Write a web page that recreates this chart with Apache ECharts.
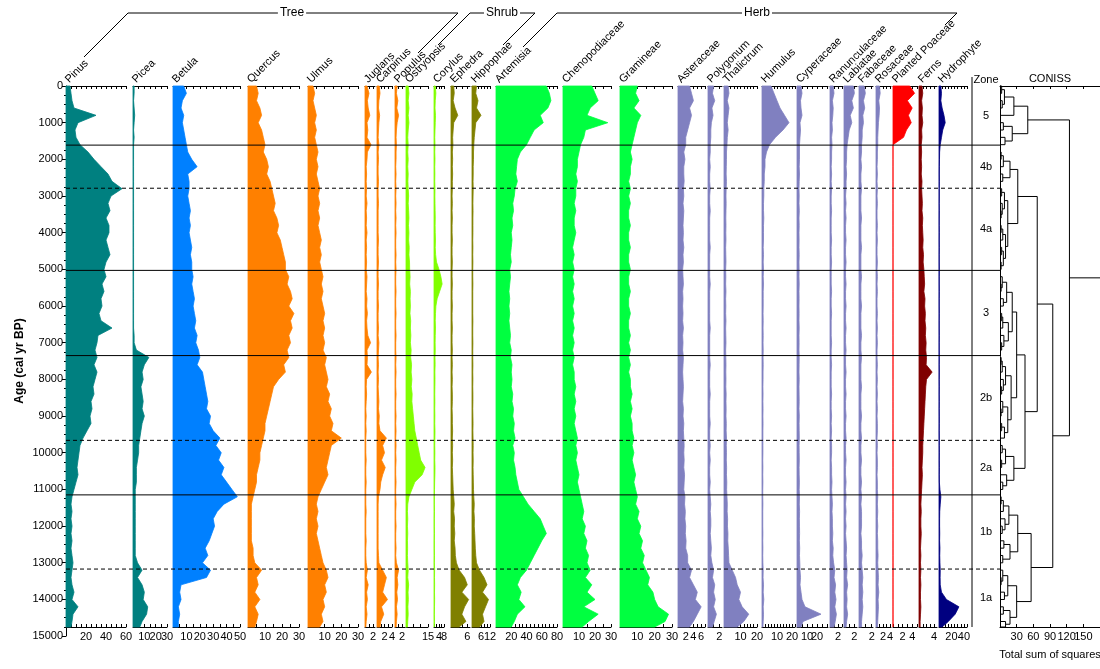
<!DOCTYPE html>
<html>
<head>
<meta charset="utf-8">
<script src="https://cdn.jsdelivr.net/npm/echarts@6/dist/echarts.min.js"></script>
<style>html,body{margin:0;padding:0;background:#fff}#chart{width:1100px;height:669px}</style>
</head>
<body>
<div id="chart"></div>
<script>
// Sample ages (cal yr BP)
const ages = [0,200,400,600,800,1000,1200,1400,1600,1800,2000,2200,2400,2600,2800,3000,3200,3400,3600,3800,
4000,4200,4400,4600,4800,5000,5200,5400,5600,5800,6000,6200,6400,6600,6800,7000,7200,7400,7600,7800,
8000,8200,8400,8600,8800,9000,9200,9400,9600,9800,10000,10200,10400,10600,10800,11000,11200,11400,11600,11800,
12000,12200,12400,12600,12800,13000,13200,13400,13600,13800,14000,14200,14400,14600,14750];

const taxa = ['Pinus','Picea','Betula','Quercus','Ulmus','Juglans','Carpinus','Populus','Ostryopsis','Corylus',
'Ephedra','Hippophae','Artemisia','Chenopodiaceae','Gramineae','Asteraceae','Polygonum','Thalictrum','Humulus',
'Cyperaceae','Ranunculaceae','Labiatae','Fabaceae','Rosaceae','Planted Poaceae','Ferns','Hydrophyte'];

// Percentages per taxon
const pinus = [4,5,6,8,30,12,9,10,14,22, 28,35,42,46,56,45,42,44,40,43, 43,40,42,44,40,38,40,36,38,35,
36,33,35,46,32,31,29,31,28,31, 29,27,28,25,26,24,25,21,17,14, 13,12,11,12,10,8,6,5,6,5,
6,5,6,5,6,7,6,5,6,8, 6,12,7,6,5];
const picea = [1,1,0.5,1,1.5,1,0.5,1,0.5,0.5, 0.5,0.5,0.5,0.5,0.5,0.5,0.5,0.5,0.5,0.5, 0.5,0.5,0.5,0.5,0.5,0.5,0.5,0.5,0.5,0.5,
0.5,0.5,0.5,0.5,1,1,3,14,10,8, 9,7,8,9,8,10,8,7,6,5, 5,4,3,3,3,2,2,2,2,2,
2,2,2,2,2,4,8,4,8,10, 9,13,12,8,6];
const betula = [8,10,7,6,8,7,8,9,10,11, 14,18,11,12,12,11,12,13,12,13, 12,13,14,13,14,14,15,14,15,16,
15,16,17,16,18,17,19,20,18,22, 23,24,25,26,25,28,27,30,35,32, 36,34,38,36,40,44,48,38,33,30,
31,29,27,24,26,22,28,25,6,5, 6,4,5,4,4];
const quercus = [5,6,5,7,8,6,8,9,10,9, 11,12,11,13,14,15,16,15,17,18, 17,19,20,21,22,22,24,23,25,26,
24,27,25,26,24,25,23,24,21,22, 18,15,14,13,12,11,10,10,9,8, 7,7,6,5,5,4,3,2,2,2,
2,2,2,3,3,4,8,5,6,4, 7,4,6,5,4];
const ulmus = [3,4,3,4,5,4,5,4,5,6, 5,6,5,6,7,6,7,6,7,6, 7,8,7,8,7,8,9,8,9,8,
9,10,9,10,9,10,9,11,10,11, 12,11,13,12,14,13,15,14,20,14, 13,12,11,12,10,8,6,5,6,5,
6,5,6,7,8,9,11,12,10,11, 9,10,8,9,7];
const juglans = [0.5,1.0,0.6,0.8,1.2,0.5,0.7,0.5,1.5,0.6, 0.5,0.3,0.4,0.3,0.4,0.3,0.5,0.3,0.4,0.3,
0.5,0.3,0.4,0.3,0.4,0.3,0.5,0.4,0.3,0.5, 0.4,0.6,0.4,0.5,0.7,1.4,0.5,0.6,0.5,1.6,
0.4,0.3,0.4,0.3,0.2,0.3,0.2,0.3,0.2,0.2, 0.2,0.3,0.2,0.2,0.3,0.2,0.2,0.2,0.3,0.2,
0.2,0.2,0.3,0.2,0.2,0.3,0.6,0.3,0.8,0.4, 0.6,0.3,0.5,0.3,0.2];
const carpinus = [0.6,0.8,0.5,0.4,0.7,0.5,0.4,0.3,0.5,0.3, 0.4,0.3,0.3,0.4,0.3,0.3,0.4,0.3,0.3,0.3,
0.3,0.4,0.3,0.3,0.4,0.3,0.3,0.4,0.3,0.3, 0.4,0.3,0.3,0.4,0.3,0.5,0.4,0.3,0.4,0.3,
0.4,0.3,0.4,0.5,0.4,0.6,0.5,0.8,2.5,1.5, 2.0,1.2,2.2,1.5,1.0,0.8,0.4,0.3,0.3,0.3,
0.3,0.3,0.3,0.3,0.4,0.5,1.5,2.5,2.0,1.5, 2.8,1.2,1.8,1.0,0.8];
const populus = [0.6,0.4,0.8,0.5,1.0,0.6,0.4,0.3,0.4,0.3, 0.3,0.2,0.3,0.2,0.3,0.2,0.3,0.2,0.3,0.2,
0.3,0.2,0.2,0.3,0.2,0.3,0.2,0.2,0.3,0.2, 0.2,0.3,0.2,0.2,0.3,0.2,0.2,0.3,0.2,0.3,
0.2,0.2,0.3,0.2,0.2,0.3,0.2,0.3,0.2,0.3, 0.2,0.3,0.2,0.2,0.3,0.2,0.2,0.3,0.2,0.2,
0.3,0.2,0.2,0.3,0.2,0.4,1.0,0.6,0.8,0.5, 0.7,0.4,0.6,0.4,0.3];
const ostryopsis = [1.5,2,1.5,2,1.5,2,1.5,1.2,1.5,1.2, 1.5,1.2,1.5,1.3,1.5,1.8,1.5,1.8,2,1.7,
2,1.8,2.2,2,2.4,2.5,2.8,2.5,3,2.8, 3,2.7,3.2,3,3.3,3,3.5,3.2,3.8,3.5,
4,3.6,4.2,4,4.5,5,5.5,6,7,8, 9,10,13,11,6,4,2,1.2,1,1.2,
1,1.2,1,1.1,1,1.2,1.5,1.2,1.8,1.4, 1.6,1.3,1.5,1.2,1];
const corylus = [1,1.5,1,0.8,1.2,1,0.8,0.6,0.8,0.6, 0.8,0.6,0.7,0.6,0.8,0.7,0.8,0.9,1,0.9,
1,1.2,1,1.3,2,4,5.5,6.5,4.5,2.5, 1.5,1.2,1,1.2,1,0.9,1,0.8,0.9,0.7,
0.8,0.7,0.6,0.7,0.6,0.7,0.6,0.8,0.7,0.6, 0.7,0.6,0.8,0.7,0.5,0.4,0.3,0.3,0.4,0.3,
0.3,0.4,0.3,0.3,0.4,0.3,0.5,0.4,0.5,0.4, 0.5,0.4,0.3,0.4,0.3];
const ephedra = [1,1.2,0.8,1.5,2.5,1,0.8,0.6,0.7,0.5, 0.6,0.5,0.6,0.5,0.5,0.4,0.5,0.4,0.5,0.4,
0.4,0.5,0.4,0.4,0.5,0.4,0.4,0.5,0.4,0.4, 0.5,0.4,0.4,0.5,0.4,0.4,0.5,0.4,0.5,0.4,
0.5,0.4,0.5,0.5,0.4,0.5,0.5,0.6,0.5,0.6, 0.5,0.6,0.5,0.6,0.7,0.8,1,1.2,1,1.3,
1.2,1.4,1.2,1.5,1.6,2,3,5,6,4, 6.5,5,4,5.5,3];
const hippophae = [3,2.5,4,3,6,2.5,2,1.5,1.2,1, 1,0.8,0.8,0.7,0.8,0.7,0.6,0.7,0.6,0.6,
0.6,0.5,0.6,0.5,0.6,0.5,0.5,0.6,0.5,0.5, 0.5,0.5,0.6,0.5,0.5,0.6,0.5,0.5,0.6,0.5,
0.6,0.5,0.6,0.6,0.5,0.6,0.7,0.6,0.7,0.8, 0.7,0.8,0.7,0.8,0.9,1,1.2,1.5,1.3,1.6,
1.5,1.8,2,2.2,2.5,3,5,8,10,7, 11,9,7,8,5];
const artemisia = [66,70,72,68,58,62,50,45,40,32, 28,27,26,28,25,24,22,23,21,22, 20,21,20,19,20,18,19,18,17,18,
17,18,17,18,19,18,20,19,21,20, 21,20,22,21,23,22,24,23,25,22, 24,23,25,26,28,30,36,42,50,58,
62,66,60,55,50,45,40,32,28,33, 30,38,28,24,20];
const chenopodiaceae = [18,20,22,17,15,28,14,13,11,10, 9,9,8,9,8,8,7,8,7,7, 8,7,6,7,6,7,6,7,6,7,
6,7,6,7,6,7,6,7,6,7, 7,8,7,8,7,8,7,8,9,8, 9,8,9,10,9,10,11,12,13,12,
14,13,15,14,16,15,17,14,18,15, 20,13,22,16,12];
const gramineae = [10,9,11,8,12,10,9,8,7,6, 7,6,6,5,6,5,6,5,5,6, 5,5,6,5,5,6,5,5,6,5,
5,6,5,5,6,5,6,5,6,5, 6,6,7,6,7,6,7,7,8,7, 8,7,8,9,8,9,10,9,11,10,
12,11,13,12,14,13,15,17,16,19, 20,22,28,26,20];
const asteraceae = [3,3.5,4,3,3.5,3,2.5,2,2,1.5, 1.8,1.5,1.5,1.6,1.4,1.5,1.3,1.5,1.4,1.3,
1.4,1.3,1.5,1.3,1.4,1.2,1.3,1.4,1.2,1.3, 1.2,1.3,1.2,1.4,1.2,1.3,1.2,1.4,1.3,1.2,
1.3,1.4,1.3,1.2,1.4,1.3,1.5,1.4,1.5,1.6, 1.5,1.6,1.5,1.7,1.6,1.5,1.8,1.7,1.9,1.8,
2,1.9,2.1,2,2.5,2.5,3.5,3,4,5, 4.5,6,5,4,3];
const polygonum = [1,0.8,1.2,0.7,0.9,0.6,0.5,0.5,0.4,0.4, 0.3,0.4,0.3,0.3,0.4,0.3,0.3,0.4,0.3,0.3,
0.3,0.3,0.4,0.3,0.3,0.3,0.3,0.4,0.3,0.3, 0.3,0.3,0.3,0.4,0.3,0.3,0.3,0.3,0.4,0.3,
0.3,0.3,0.4,0.3,0.3,0.3,0.4,0.3,0.3,0.4, 0.3,0.4,0.3,0.3,0.4,0.3,0.4,0.5,0.4,0.5,
0.5,0.4,0.5,0.6,0.5,0.7,1,0.8,1.2,1, 1.3,1,1.5,1.1,0.8];
const thalictrum = [2.5,3,2,3,2.5,2,2.5,2,1.8,1.5, 1.5,1.4,1.3,1.5,1.3,1.2,1.3,1.2,1.1,1.2,
1.1,1.2,1,1.1,1.2,1,1.1,1,1.2,1, 1.1,1,1.2,1,1.1,1.2,1,1.1,1.2,1.1,
1.2,1.1,1.3,1.2,1.3,1.2,1.4,1.3,1.5,1.4, 1.5,1.4,1.6,1.5,1.7,1.6,1.8,2,1.9,2.2,
2.1,2.4,2.3,2.6,2.8,3,5,7,8,10, 9,11,15,12,8];
const humulus = [6,8,10,12,15,18,14,9,5,3, 2,2,1.5,1.5,1.2,1.2,1,1,1.2,1, 1,1,0.8,1,0.8,1,0.8,1,0.8,0.8,
0.8,0.7,0.8,0.7,0.8,0.7,0.8,0.7,0.8,0.7, 0.7,0.6,0.7,0.6,0.7,0.6,0.7,0.6,0.6,0.6,
0.6,0.5,0.6,0.5,0.6,0.5,0.5,0.6,0.5,0.5, 0.5,0.6,0.5,0.6,0.5,0.6,0.8,0.7,1,0.8, 1.2,0.8,1,0.8,0.6];
const cyperaceae = [4,5,3.5,4,5,3,3.5,3,2.5,2.5, 2.5,2.2,2.5,2.2,2,2.2,2,2.3,2,2.2,
2,2.1,2,2.2,2,2.1,2,2.2,2,2.1, 2,2.1,2,2.2,2,2.1,2,2.2,2.1,2,
2.2,2,2.1,2.2,2,2.3,2.1,2.2,2.3,2.1, 2.2,2.3,2.1,2.2,2.4,2.2,2.5,2.3,2.6,2.4,
2.5,2.6,2.4,2.7,2.5,2.8,3,3.5,3,4, 5,8,24,6,4];
const ranunculaceae = [0.8,1,0.6,0.8,0.7,0.5,0.6,0.4,0.5,0.4, 0.4,0.3,0.4,0.3,0.4,0.3,0.3,0.4,0.3,0.3,
0.3,0.4,0.3,0.3,0.4,0.3,0.3,0.3,0.4,0.3, 0.3,0.4,0.3,0.3,0.3,0.4,0.3,0.3,0.4,0.3,
0.3,0.3,0.4,0.3,0.3,0.4,0.3,0.4,0.3,0.4, 0.4,0.3,0.4,0.4,0.5,0.4,0.5,0.6,0.5,0.6,
0.6,0.7,0.6,0.8,0.7,0.9,1.2,1,1.4,1.2, 1.5,1.2,1.6,1.3,1];
const labiatae = [1.8,2,1.5,1.8,1.2,1.5,1,0.8,0.6,0.5, 0.5,0.4,0.5,0.4,0.4,0.3,0.4,0.3,0.4,0.3,
0.3,0.4,0.3,0.3,0.4,0.3,0.3,0.4,0.3,0.3, 0.4,0.3,0.3,0.4,0.3,0.3,0.4,0.3,0.3,0.4,
0.3,0.3,0.4,0.3,0.3,0.4,0.3,0.3,0.4,0.3, 0.3,0.4,0.3,0.3,0.4,0.3,0.4,0.3,0.4,0.3,
0.4,0.3,0.4,0.5,0.4,0.5,0.6,0.5,0.7,0.5, 0.6,0.5,0.7,0.5,0.4];
const fabaceae = [0.8,1,0.7,0.9,0.6,0.7,0.5,0.5,0.4,0.4, 0.3,0.4,0.3,0.3,0.4,0.3,0.3,0.3,0.4,0.3,
0.3,0.3,0.4,0.3,0.3,0.3,0.4,0.3,0.3,0.3, 0.4,0.3,0.3,0.3,0.4,0.3,0.3,0.4,0.3,0.3,
0.3,0.4,0.3,0.3,0.3,0.4,0.3,0.3,0.4,0.3, 0.3,0.4,0.3,0.3,0.4,0.3,0.4,0.3,0.4,0.4,
0.4,0.3,0.4,0.4,0.5,0.4,0.5,0.6,0.5,0.6, 0.5,0.6,0.5,0.4,0.4];
const rosaceae = [1,1.2,0.8,1,0.9,0.7,0.6,0.5,0.5,0.4, 0.4,0.3,0.4,0.3,0.4,0.3,0.4,0.3,0.3,0.4,
0.3,0.4,0.3,0.3,0.4,0.3,0.4,0.3,0.4,0.3, 0.3,0.4,0.3,0.4,0.3,0.4,0.3,0.3,0.4,0.3,
0.4,0.3,0.4,0.3,0.4,0.3,0.4,0.4,0.3,0.4, 0.3,0.4,0.4,0.3,0.4,0.4,0.5,0.4,0.5,0.4,
0.5,0.4,0.5,0.5,0.6,0.5,0.6,0.7,0.6,0.8, 0.6,0.7,0.6,0.5,0.4];
const plantedPoaceae = [3.5,4.5,3,4,3.2,3.8,2.8,2.2,0,0, 0,0,0,0,0,0,0,0,0,0, 0,0,0,0,0,0,0,0,0,0,
0,0,0,0,0,0,0,0,0,0, 0,0,0,0,0,0,0,0,0,0, 0,0,0,0,0,0,0,0,0,0, 0,0,0,0,0,0,0,0,0,0, 0,0,0,0,0];
const ferns = [0.8,1,0.7,0.9,0.8,1,0.7,0.8,0.6,0.7, 0.6,0.7,0.6,0.8,0.7,0.8,0.9,0.8,1,0.9,
1,1.1,1,1.2,1.1,1.3,1.4,1.5,1.3,1.6, 1.5,1.7,1.6,1.8,1.7,1.9,1.8,2,1.9,3.5,
2,1.8,1.7,1.6,1.5,1.4,1.3,1.2,1.1,1, 1,0.9,0.8,0.9,0.8,0.7,0.6,0.5,0.6,0.5,
0.5,0.6,0.5,0.4,0.5,0.4,0.5,0.4,0.5,0.4, 0.4,0.5,0.4,0.3,0.3];
const hydrophyte = [3,4,3,5,8,10,6,4,2,1, 0.8,0.6,0.5,0.6,0.5,0.5,0.4,0.5,0.4,0.4,
0.5,0.4,0.5,0.4,0.4,0.5,0.4,0.4,0.5,0.4, 0.4,0.5,0.4,0.4,0.5,0.4,0.4,0.5,0.4,0.5,
0.4,0.5,0.4,0.5,0.4,0.5,0.5,0.4,0.5,0.5, 0.6,0.5,0.6,0.5,0.6,1.5,3,2,1.2,1,
1,1.2,1,1.5,1.2,1.5,2,1.8,2,4, 12,32,26,15,5];

const values = [pinus,picea,betula,quercus,ulmus,juglans,carpinus,populus,ostryopsis,corylus,
ephedra,hippophae,artemisia,chenopodiaceae,gramineae,asteraceae,polygonum,thalictrum,humulus,
cyperaceae,ranunculaceae,labiatae,fabaceae,rosaceae,plantedPoaceae,ferns,hydrophyte];

// Axis tick labels per taxon
const tickLabels = [[20,40,60],[10,20,30],[10,20,30,40,50],[10,20,30],[10,20,30],[2],[2,4],[2],[15],[4,8],
[6],[6,12],[20,40,60,80],[10,20,30],[10,20,30],[2,4,6],[2],[10,20],[10,20],[10,20],[2],[2],[2],[2,4],
[2,4],[4],[20,40]];
const ageTicks = [0,1000,2000,3000,4000,5000,6000,7000,8000,9000,10000,11000,12000,13000,14000,15000];
const conissTicks = [30,60,90,120,150];

// Zones
const zoneBounds = [1612, 2787, 5027, 7350, 9661, 11148, 13170];
const zoneDashed = [false, true, false, false, true, false, true];
const zoneNames = ['5','4b','4a','3','2b','2a','1b','1a'];

// CONISS cluster tree: [sum of squares, left, right]; numbers are sample indices
const coniss = [125,
  [50, [25,[8,[3,0,1],[4,2,3]],4], [22,[6,5,6],[9,7,8]]],
  [95,
    [67,
      [32, [18,[6,[2,9,10],11],[5,12,13]],
           [14,[8,[3,14,15],[4,16,[2,17,18]]],[10,[5,[2,19,20],21],[6,[3,22,23],[2,24,25]]]]],
      [45,
        [30, [22,[12,[4,26,[2,27,28]],[6,29,30]],[15,[5,[3,31,32],33],[7,34,[3,35,36]]]],
             [20,[10,[4,[2,37,38],39],[6,40,[3,41,42]]],[14,[5,43,[2,44,45]],[8,[3,46,47],48]]]],
        [25, [10,[4,49,50],[3,51,52]], [12,53,[5,54,55]]]]],
    [56,
      [32, [16,[6,[2,56,57],58],[9,59,[4,60,61]]], [18,[7,62,63],[5,64,65]]],
      [30, [14,[5,66,[2,67,68]],[8,69,70]], [18,[6,71,72],[10,73,74]]]]]];

// ---- layout & styles ----
const FONT = '"Liberation Sans", Arial, sans-serif';
const TOP = 86, PANEL_H = 541, AGE_H = 550, AGE_MAX = 14750;
const C = {teal:'#008080', blue:'#0080ff', orange:'#ff8000', lime:'#80ff00', olive:'#808000',
  green:'#00ff40', purple:'#8080c0', red:'#ff0000', maroon:'#800000', navy:'#000080'};
// [left px, width px, axis max, tick step, colour]
const geom = [
  [66,60,60,5,C.teal],[133,34,30,5,C.teal],[173,67,50,5,C.blue],[248,51,30,5,C.orange],[308,50,30,5,C.orange],
  [365,10,2.5,1,C.orange],[377,15,4,1,C.orange],[395,10,2.8,1,C.orange],[406,22,15,5,C.lime],[434,10,8,2,C.lime],
  [451,19,7,2,C.olive],[472,18,12,2,C.olive],[496,61,80,5,C.green],[563,48,30,5,C.green],[620,52,30,5,C.green],
  [678,27,7,1,C.purple],[708,14,2.5,1,C.purple],[724,33,20,2,C.purple],[762,33,22,2,C.purple],[797,31,31,5,C.purple],
  [830,12,3,1,C.purple],[844,13,2.5,1,C.purple],[859,14,2.2,1,C.purple],[876,15,4.3,1,C.purple],
  [893,24,5,1,C.red],[919,18,4.8,1,C.maroon],[939,28,45,5,C.navy]
];

const black = {color:'#000', width:1};
const grids = [], xAxes = [], yAxes = [], series = [], graphics = [];

// Age axis
grids.push({left:66, top:TOP, width:1, height:AGE_H, outerBoundsMode:'none'});
xAxes.push({gridIndex:0, type:'value', show:false, min:0, max:1});
yAxes.push({gridIndex:0, type:'value', min:0, max:15000, inverse:true, position:'left',
  name:'Age (cal yr BP)', nameLocation:'middle', nameGap:40, nameRotate:90, nameMoveOverlap:false,
  nameTextStyle:{fontSize:12, fontWeight:'bold', color:'#000', fontFamily:FONT},
  axisLine:{show:true, lineStyle:black},
  axisTick:{show:true, length:4, lineStyle:black, customValues:ageTicks},
  minorTick:{show:true, splitNumber:4, length:2, lineStyle:black},
  axisLabel:{fontSize:11, color:'#000', margin:3, fontFamily:FONT, customValues:ageTicks, formatter:v=>String(v)},
  interval:1000, splitLine:{show:false}});

function profileSeries(vals, color, xi, yi) {
  return {
    type:'custom', xAxisIndex:xi, yAxisIndex:yi, silent:true, z:2, animation:false,
    data: vals.map((v, i) => [v, ages[i]]),
    renderItem(params, api) {
      if (params.dataIndex !== 0) return null;
      const pts = [api.coord([0, ages[0]])];
      for (let i = 0; i < vals.length; i++) pts.push(api.coord([vals[i], ages[i]]));
      pts.push(api.coord([0, ages[ages.length - 1]]));
      return {type:'polygon', shape:{points:pts}, style:{fill:color, stroke:color, lineWidth:0.8}};
    }
  };
}

// Tick labels placed under an axis through its own scale (kept even where neighbours touch)
function tickLabelSeries(labels, xi, yi, yValue) {
  return {
    type:'custom', xAxisIndex:xi, yAxisIndex:yi, silent:true, z:8, animation:false,
    data: labels.map(v => [v, yValue]), encode:{x:0, y:1},
    renderItem(params, api) {
      const pt = api.coord([api.value(0), api.value(1)]);
      return {type:'text', x:pt[0], y:pt[1] + 4,
        style:{text:String(api.value(0)), fontSize:11, fontFamily:FONT, fill:'#000',
          textAlign:'center', textVerticalAlign:'top', align:'center', verticalAlign:'top'}};
    }
  };
}

taxa.forEach((name, p) => {
  const [left, width, max, step, color] = geom[p];
  const gi = grids.length;
  grids.push({left, top:TOP, width, height:PANEL_H, outerBoundsMode:'none'});
  const tk = [];
  for (let t = 0; t <= max + 1e-6; t += step) tk.push(+t.toFixed(3));
  xAxes.push({gridIndex:gi, type:'value', position:'top', min:0, max,
    axisLine:{show:true, onZero:false, lineStyle:black},
    axisTick:{show:true, inside:true, length:3, lineStyle:black, customValues:tk},
    axisLabel:{show:false}, splitLine:{show:false}});
  const xb = xAxes.length;
  xAxes.push({gridIndex:gi, type:'value', position:'bottom', min:0, max,
    axisLine:{show:true, onZero:false, lineStyle:black},
    axisTick:{show:true, inside:true, length:3, lineStyle:black, customValues:tk},
    axisLabel:{show:false}, splitLine:{show:false}});
  const yi = yAxes.length;
  yAxes.push({gridIndex:gi, type:'value', min:0, max:AGE_MAX, inverse:true, show:false});
  series.push(profileSeries(values[p], color, xb, yi));
  series.push(tickLabelSeries(tickLabels[p], xb, yi, AGE_MAX));
  graphics.push({type:'text', x:left + 5, y:TOP - 1, rotation:Math.PI / 4, z:20,
    style:{text:name, fontSize:11, fontFamily:FONT, fill:'#000',
      textAlign:'left', textVerticalAlign:'bottom', align:'left', verticalAlign:'bottom'}});
});

// Zone boundary lines across all panels
const bg = grids.length;
grids.push({left:66, top:TOP, width:934, height:PANEL_H, outerBoundsMode:'none'});
const bx = xAxes.length; xAxes.push({gridIndex:bg, type:'value', show:false, min:0, max:1});
const by = yAxes.length; yAxes.push({gridIndex:bg, type:'value', show:false, min:0, max:AGE_MAX, inverse:true});
series.push({type:'custom', xAxisIndex:bx, yAxisIndex:by, silent:true, z:6, animation:false,
  data: zoneBounds.map((a, i) => [0, a, zoneDashed[i] ? 1 : 0]),
  encode:{x:0, y:1},
  renderItem(params, api) {
    const a = api.value(1);
    const p1 = api.coord([0, a]), p2 = api.coord([1, a]);
    return {type:'line', shape:{x1:p1[0], y1:p1[1], x2:p2[0], y2:p2[1]},
      style:{stroke:'#000', lineWidth:1, lineDash: api.value(2) ? [4, 3] : null}};
  }});

// Zone labels
const zoneEdges = [0].concat(zoneBounds, [AGE_MAX]);
const zg = grids.length;
grids.push({left:972, top:TOP, width:28, height:PANEL_H, outerBoundsMode:'none'});
const zx = xAxes.length; xAxes.push({gridIndex:zg, type:'value', show:false, min:0, max:1});
const zy = yAxes.length; yAxes.push({gridIndex:zg, type:'value', show:false, min:0, max:AGE_MAX, inverse:true});
series.push({type:'custom', xAxisIndex:zx, yAxisIndex:zy, silent:true, z:6, animation:false,
  data: zoneNames.map((n, i) => [0.5, (zoneEdges[i] + zoneEdges[i + 1]) / 2]),
  encode:{x:0, y:1},
  renderItem(params, api) {
    const pt = api.coord([api.value(0), api.value(1)]);
    return {type:'text', x:pt[0], y:pt[1],
      style:{text:zoneNames[params.dataIndex], fontSize:11, fontFamily:FONT, fill:'#000',
        textAlign:'center', textVerticalAlign:'middle', align:'center', verticalAlign:'middle'}};
  }});

// CONISS dendrogram
const segs = [];
function walk(node) {
  if (typeof node === 'number') return {y: ages[node], h: 0};
  const [h, l, r] = node;
  const a = walk(l), b = walk(r);
  segs.push([a.h, a.y, h, a.y]);
  segs.push([b.h, b.y, h, b.y]);
  segs.push([h, a.y, h, b.y]);
  return {y: (a.y + b.y) / 2, h};
}
const rootNode = walk(coniss);
segs.push([rootNode.h, rootNode.y, 180, rootNode.y]);

const cg = grids.length;
grids.push({left:1000, top:TOP, width:100, height:PANEL_H, outerBoundsMode:'none'});
const cTicks = [0,30,60,90,120,150,180];
xAxes.push({gridIndex:cg, type:'value', position:'top', min:0, max:180,
  name:'CONISS', nameLocation:'middle', nameGap:2, nameMoveOverlap:false,
  nameTextStyle:{fontSize:11, color:'#000', fontFamily:FONT},
  axisLine:{show:true, onZero:false, lineStyle:black},
  axisTick:{show:true, inside:true, length:3, lineStyle:black, customValues:cTicks},
  axisLabel:{show:false}, splitLine:{show:false}});
const cx = xAxes.length;
xAxes.push({gridIndex:cg, type:'value', position:'bottom', min:0, max:180,
  name:'Total sum of squares', nameLocation:'middle', nameGap:22, nameMoveOverlap:false,
  nameTextStyle:{fontSize:11, color:'#000', fontFamily:FONT},
  axisLine:{show:true, onZero:false, lineStyle:black},
  axisTick:{show:true, inside:true, length:3, lineStyle:black, customValues:cTicks},
  axisLabel:{show:false}, splitLine:{show:false}});
const cy = yAxes.length;
yAxes.push({gridIndex:cg, type:'value', min:0, max:AGE_MAX, inverse:true, position:'left',
  axisLine:{show:true, onZero:false, lineStyle:black}, axisTick:{show:false}, axisLabel:{show:false},
  splitLine:{show:false}});
series.push({type:'custom', xAxisIndex:cx, yAxisIndex:cy, silent:true, z:4, animation:false,
  data: segs, encode:{x:[0, 2], y:[1, 3]},
  renderItem(params, api) {
    const p1 = api.coord([api.value(0), api.value(1)]);
    const p2 = api.coord([api.value(2), api.value(3)]);
    return {type:'line', shape:{x1:p1[0], y1:p1[1], x2:p2[0], y2:p2[1]},
      style:{stroke:'#000', lineWidth:1}};
  }});
series.push(tickLabelSeries(conissTicks, cx, cy, AGE_MAX));

// Group brackets and headers
const bracketStyle = {stroke:'#000', lineWidth:1, fill:null};
graphics.push(
  {type:'polyline', z:15, shape:{points:[[84,57],[128,13],[458,13],[418,53]]}, style:bracketStyle},
  {type:'polyline', z:15, shape:{points:[[438,45],[470,13],[535,13],[503,45]]}, style:bracketStyle},
  {type:'polyline', z:15, shape:{points:[[523,47],[557,13],[957,13],[945,25]]}, style:bracketStyle},
  {type:'line', z:15, shape:{x1:972, y1:77, x2:972, y2:TOP + PANEL_H}, style:{stroke:'#000', lineWidth:1}}
);
[['Tree',292],['Shrub',502],['Herb',757]].forEach(([t, x]) => graphics.push({
  type:'text', x, y:13, z:25,
  style:{text:t, fontSize:12, fontFamily:FONT, fill:'#000', backgroundColor:'#fff', padding:[0, 2],
    textAlign:'center', textVerticalAlign:'middle', align:'center', verticalAlign:'middle'}}));
graphics.push({type:'text', x:986, y:80, z:25,
  style:{text:'Zone', fontSize:11, fontFamily:FONT, fill:'#000',
    textAlign:'center', textVerticalAlign:'middle', align:'center', verticalAlign:'middle'}});

const chart = echarts.init(document.getElementById('chart'), null, {renderer:'canvas'});
chart.setOption({
  animation:false,
  backgroundColor:'#fff',
  textStyle:{fontFamily:FONT, color:'#000'},
  grid:grids, xAxis:xAxes, yAxis:yAxes, series, graphic:graphics
});
</script>
</body>
</html>
